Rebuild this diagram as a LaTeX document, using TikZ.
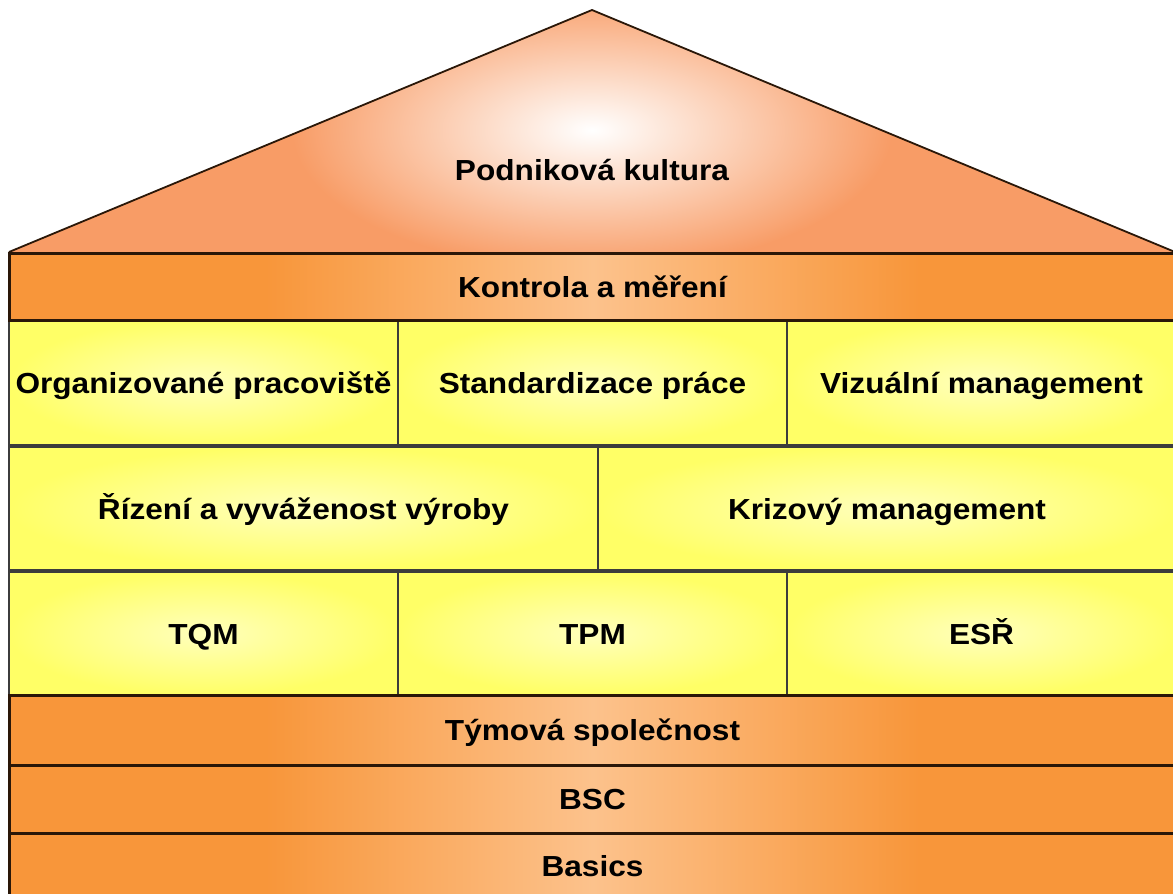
\documentclass[tikz,border=0pt]{standalone}
\usepackage{fontspec}
\setmainfont{Liberation Sans}[FakeStretch=1.09]
\definecolor{bandorange}{HTML}{F8963A}
\definecolor{bandpeach}{HTML}{FCC28C}
\definecolor{rooforange}{HTML}{F89C66}
\definecolor{cellyellow}{HTML}{FFFF66}
\definecolor{celllight}{HTML}{FFFFBC}
\definecolor{edgebrown}{HTML}{2A1708}
\definecolor{celledge}{HTML}{3C3C3C}
% light stripe across the middle of each orange band (only 25bp..75bp is visible)
\pgfdeclarehorizontalshading{bandshade}{100bp}{color(0bp)=(bandorange); color(36bp)=(bandorange); color(50bp)=(bandpeach); color(64bp)=(bandorange); color(100bp)=(bandorange)}
\tikzset{
  label text/.style={font=\fontsize{29}{34}\selectfont\bfseries, text=black,
    text height=22pt, text depth=1pt},
  band/.style={label text, shading=bandshade, draw=edgebrown, line width=3pt,
    inner sep=0pt, minimum width=1167pt},
  cell/.style={label text, inner color=celllight, outer color=cellyellow,
    draw=celledge, line width=2pt, inner sep=0pt},
}
\begin{document}
\begin{tikzpicture}[x=1pt,y=-1pt]
\useasboundingbox (0,0) rectangle (1173,894);
\clip (0,0) rectangle (1173,894);
\fill[white] (0,0) rectangle (1173,894);

% roof
\coordinate (eaveL) at (9,252);
\coordinate (apex) at (592,10);
\coordinate (eaveR) at (1175,252);
\fill[rooforange] (eaveL) -- (apex) -- (eaveR) -- cycle;
\begin{scope}
  \clip (eaveL) -- (apex) -- (eaveR) -- cycle;
  \shade[inner color=white, outer color=rooforange] (592,130) ellipse [x radius=300, y radius=140];
\end{scope}
\draw[edgebrown, line width=1.8pt, line join=round] (eaveL) -- (apex) -- (eaveR);
\node[label text] (roof) at (592,170) {Podniková kultura};

% first row of pillars
\node[cell, minimum width=389pt, minimum height=125pt] (org) at (203.5,382.5) {Organizované pracoviště};
\node[cell, minimum width=389pt, minimum height=125pt] (std) at (592.5,382.5) {Standardizace práce};
\node[cell, minimum width=389pt, minimum height=125pt] (viz) at (981.5,382.5) {Vizuální management};

% second row
\node[cell, minimum width=589pt, minimum height=123pt] (riz) at (303.5,508.5) {Řízení a vyváženost výroby};
\node[cell, minimum width=578pt, minimum height=123pt] (kriz) at (887,508.5) {Krizový management};

% third row
\node[cell, minimum width=389pt, minimum height=123pt] (tqm) at (203.5,633.5) {TQM};
\node[cell, minimum width=389pt, minimum height=123pt] (tpm) at (592.5,633.5) {TPM};
\node[cell, minimum width=389pt, minimum height=123pt] (esr) at (981.5,633.5) {ESŘ};

% orange bands
\node[band, minimum height=67pt] (kontrola) at (592.5,286.5) {Kontrola a měření};
\node[band, minimum height=70pt] (tym) at (592.5,730) {Týmová společnost};
\node[band, minimum height=68pt] (bsc) at (592.5,799) {BSC};
\node[band, minimum height=66pt] (basics) at (592.5,866) {Basics};
\end{tikzpicture}
\end{document}
